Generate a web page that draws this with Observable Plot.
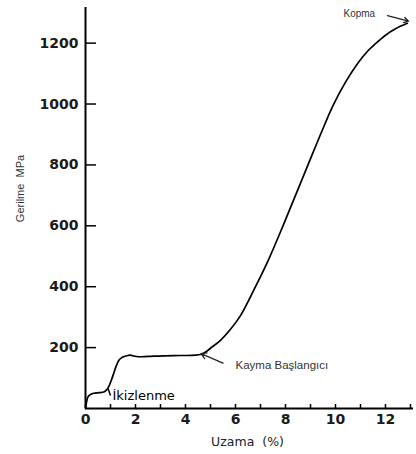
<!DOCTYPE html>
<html><head><meta charset="utf-8">
<script src="https://cdn.jsdelivr.net/npm/d3@7"></script>
<script src="https://cdn.jsdelivr.net/npm/@observablehq/plot@0.6"></script>
<style>body{margin:0;background:#fff}</style>
</head><body><div id="chart"></div>
<script>
// Strain (%) and stress (MPa)
const strain = [0, 0.04, 0.1, 0.2, 0.33, 0.55, 0.73, 0.85, 0.93, 1.03, 1.13, 1.23, 1.33, 1.45, 1.55, 1.7, 1.8, 1.95, 2.1, 2.5, 3.1, 3.8, 4.4, 4.65, 4.85, 5.0, 5.4, 5.8, 6.2, 6.8, 7.3, 7.9, 8.4, 8.9, 9.4, 9.9, 10.4, 10.9, 11.3, 11.6, 12.0, 12.4, 12.87];
const stress = [0, 20, 38, 46, 50, 52, 54, 62, 72, 92, 116, 140, 158, 167, 171, 174, 175, 172, 170, 171, 173, 174, 175, 179, 188, 198, 224, 260, 305, 400, 485, 600, 700, 800, 900, 995, 1072, 1135, 1175, 1198, 1226, 1247, 1265];

const xMinorTicks = [0,1,2,3,4,5,6,7,8,9,10,11,12,13];
const xLabelTicks = [0,2,4,6,8,10,12];
const yTicks = [200,400,600,800,1000,1200];

const xTitle = "Uzama  (%)";
const yTitle = "Gerilme  MPa";

// annotations: label anchors (data units)
const noteKopma = [{x: 10.32, y: 1297, label: "Kopma"}];
const arrowKopma = [{x1: 12.08, y1: 1290, x2: 12.92, y2: 1272}];
const noteKayma = [{x: 6.0, y: 141, label: "Kayma Başlangıcı"}];
const arrowKayma = [{x1: 5.5, y1: 149, x2: 4.62, y2: 180}];
const noteIkiz = [{x: 1.08, y: 43, label: "İkizlenme"}];
const leaderIkiz = [{x1: 0.9, y1: 66, x2: 1.0, y2: 43}];

const curve = strain.map((s, i) => ({strain: s, stress: stress[i]}));

const tickFont = "DejaVu Sans";
const chart = Plot.plot({
  width: 416,
  height: 454,
  marginLeft: 85,
  marginRight: 3,
  marginTop: 7,
  marginBottom: 46,
  style: {background: "#fff", color: "#000", fontFamily: "Liberation Sans, Arial, sans-serif"},
  x: {domain: [0, 13.12], axis: null},
  y: {domain: [0, 1317], axis: null},
  marks: [
    Plot.axisY({ticks: yTicks, tickSize: -11, tickFormat: () => "", label: null, strokeWidth: 1.5}),
    Plot.axisY({ticks: yTicks, tickSize: 0, tickPadding: 7, label: null, tickFormat: d => String(d), fontFamily: tickFont, fontWeight: "bold", fontSize: 14, fill: "#1a1a1a"}),
    Plot.axisX({ticks: xMinorTicks, tickSize: -4, tickFormat: () => "", label: null, strokeWidth: 1.5}),
    Plot.axisX({ticks: xLabelTicks, tickSize: 0, tickPadding: 6, label: null, tickFormat: d => String(d), fontFamily: tickFont, fontWeight: "bold", fontSize: 14, fill: "#1a1a1a"}),
    Plot.ruleX([0], {strokeWidth: 2}),
    Plot.ruleY([0], {strokeWidth: 2}),
    Plot.line(curve, {x: "strain", y: "stress", curve: "catmull-rom", stroke: "#000", strokeWidth: 1.7}),
    Plot.arrow(arrowKopma, {x1: "x1", y1: "y1", x2: "x2", y2: "y2", stroke: "#222", strokeWidth: 1.3, headLength: 6}),
    Plot.arrow(arrowKayma, {x1: "x1", y1: "y1", x2: "x2", y2: "y2", stroke: "#222", strokeWidth: 1.3, headLength: 7}),
    Plot.link(leaderIkiz, {x1: "x1", y1: "y1", x2: "x2", y2: "y2", stroke: "#000", strokeWidth: 1.5}),
    Plot.text(noteKopma, {x: "x", y: "y", text: "label", textAnchor: "start", fontSize: 10, fill: "#333"}),
    Plot.text(noteKayma, {x: "x", y: "y", text: "label", textAnchor: "start", fontSize: 11.5, fill: "#333", letterSpacing: 0.6}),
    Plot.text(noteIkiz, {x: "x", y: "y", text: "label", textAnchor: "start", fontSize: 13, fill: "#000", fontFamily: "DejaVu Sans"}),
    Plot.text([xTitle], {frameAnchor: "bottom", textAnchor: "middle", dx: -2, dy: 37, fontSize: 12.5, fill: "#222", fontFamily: "DejaVu Sans"}),
    Plot.text([yTitle], {frameAnchor: "left", textAnchor: "middle", rotate: -90, dx: -65, dy: -19.5, fontSize: 11, fill: "#333", fontFamily: "Liberation Sans, Arial, sans-serif"})
  ]
});
document.getElementById("chart").appendChild(chart);
</script>
</body></html>
